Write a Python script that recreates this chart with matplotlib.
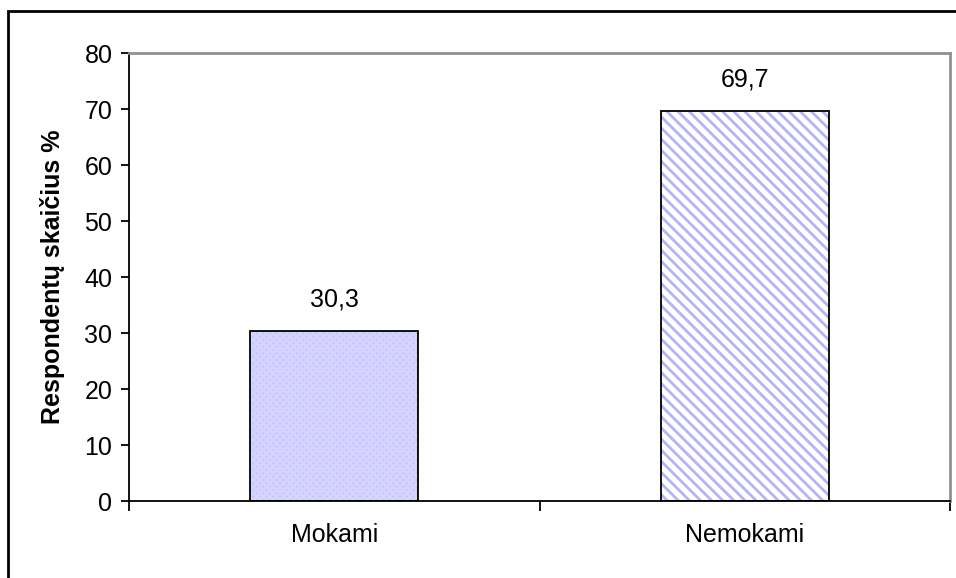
import matplotlib
matplotlib.use("Agg")
import matplotlib.pyplot as plt
from matplotlib.patches import Rectangle

categories = ["Mokami", "Nemokami"]
values = [30.3, 69.7]
value_labels = ["30,3", "69,7"]
y_ticks = [0, 10, 20, 30, 40, 50, 60, 70, 80]

plt.rcParams["font.family"] = ["Liberation Sans", "DejaVu Sans"]
plt.rcParams["hatch.linewidth"] = 2.0

fig = plt.figure(figsize=(9.56, 5.78), dpi=100)
ax = fig.add_axes([0.135, 0.1332, 0.8587, 0.7751])

# outer frame (runs off the right and bottom edge like the source)
fig.patches.append(Rectangle((8 / 956, -0.05), 1.2, 1 - 11 / 578 + 0.05,
                             transform=fig.transFigure, fill=False,
                             edgecolor="black", linewidth=2, zorder=0))

x = range(len(categories))
width = 0.41
styles = [
    dict(facecolor="#c4c4fc", hatch="xxxxx", edgecolor="#d4d4ff"),
    dict(facecolor="white", hatch="\\\\\\", edgecolor="#b4b4f8"),
]
for i, v in enumerate(values):
    ax.bar(i, v, width=width, linewidth=0, zorder=2, **styles[i])
    ax.bar(i, v, width=width, fill=False, edgecolor="black",
           linewidth=1.3, zorder=3)
    ax.annotate(value_labels[i], (i, v), xytext=(0, 14),
                textcoords="offset points", ha="center", va="bottom",
                fontsize=18)

ax.set_xlim(-0.5, len(categories) - 0.5)
ax.set_ylim(0, 80)
ax.set_yticks(y_ticks)
ax.set_yticklabels([str(t) for t in y_ticks], fontsize=18)
ax.set_xticks(list(x))
ax.set_xticklabels(categories, fontsize=18)
ax.set_xticks([-0.5, 0.5, 1.5], minor=True)
ax.tick_params(axis="x", which="major", length=0, pad=16)
ax.tick_params(axis="x", which="minor", length=7, width=1.3, direction="out")
ax.tick_params(axis="y", length=6, width=1.3, direction="out", pad=6)

ax.set_ylabel("Respondentų skaičius %", fontsize=18, fontweight="bold",
              labelpad=14)

for side in ["left", "bottom"]:
    ax.spines[side].set_color("black")
    ax.spines[side].set_linewidth(1.3)
for side in ["top", "right"]:
    ax.spines[side].set_color("#909090")
    ax.spines[side].set_linewidth(2)

fig.savefig("out.png", dpi=100)
plt.close(fig)
